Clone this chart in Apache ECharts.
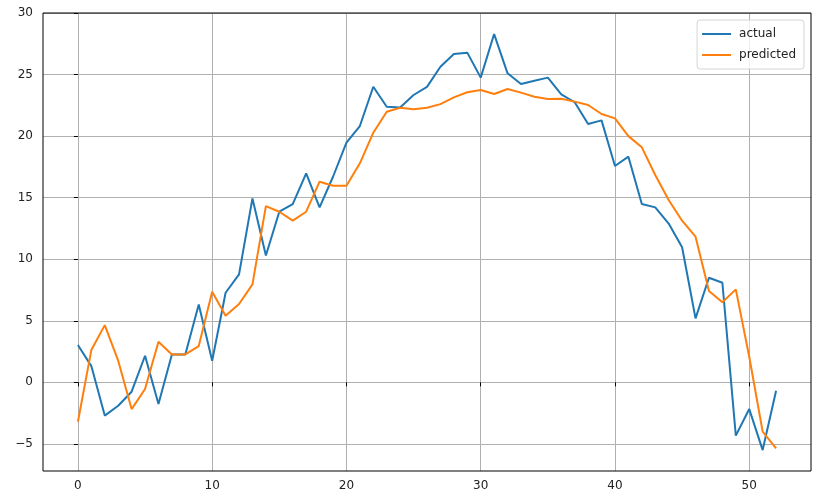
<!DOCTYPE html>
<html>
<head>
<meta charset="utf-8">
<script src="https://cdn.jsdelivr.net/npm/echarts@6/dist/echarts.min.js"></script>
<style>html,body{margin:0;padding:0;background:#fff}#c{width:815px;height:500px}</style>
</head>
<body>
<div id="c"></div>
<script>
const actual = [3.03, 1.32, -2.7, -1.9, -0.76, 2.16, -1.76, 2.27, 2.27, 6.33, 1.76, 7.28, 8.77, 14.94, 10.3, 13.86, 14.48, 16.98, 14.21, 16.7, 19.47, 20.82, 24.01, 22.39, 22.33, 23.34, 24.0, 25.64, 26.67, 26.78, 24.75, 28.29, 25.1, 24.23, 24.5, 24.75, 23.39, 22.75, 20.98, 21.28, 17.57, 18.33, 14.48, 14.21, 12.9, 10.97, 5.2, 8.5, 8.09, -4.33, -2.17, -5.5, -0.68];
const predicted = [-3.2, 2.62, 4.65, 1.76, -2.17, -0.54, 3.3, 2.27, 2.27, 2.95, 7.36, 5.41, 6.36, 7.96, 14.32, 13.86, 13.13, 13.86, 16.3, 15.97, 15.97, 17.79, 20.28, 21.98, 22.3, 22.18, 22.3, 22.6, 23.15, 23.56, 23.74, 23.42, 23.83, 23.53, 23.2, 23.01, 23.04, 22.8, 22.53, 21.8, 21.44, 20.0, 19.09, 16.84, 14.81, 13.13, 11.83, 7.42, 6.5, 7.55, 2.08, -4.0, -5.36];
const xTicks = [0, 10, 20, 30, 40, 50];
const yTicks = [-5, 0, 5, 10, 15, 20, 25, 30];

const font = 'DejaVu Sans';
const fmt = v => String(v).replace('-', '\u2212');
const pairs = arr => arr.map((v, i) => [i, v]);

const chart = echarts.init(document.getElementById('c'), null, {renderer: 'canvas'});
chart.setOption({
  animation: false,
  backgroundColor: '#fff',
  grid: {left: 43, right: 4, top: 13, bottom: 29, containLabel: false, show: true, borderColor: '#000', borderWidth: 1, z: 10},
  xAxis: {
    type: 'value', min: -2.6, max: 54.6,
    axisLine: {show: false},
    axisTick: {show: true, inside: false, length: 4, lineStyle: {color: '#000', width: 1}, customValues: xTicks},
    axisLabel: {customValues: xTicks, color: '#222', fontFamily: font, fontSize: 12, margin: 9, formatter: fmt},
    splitLine: {show: true, lineStyle: {color: '#b0b0b0', width: 1}}
  },
  yAxis: {
    type: 'value', min: -7.2, max: 30,
    axisLine: {show: false},
    axisTick: {show: true, inside: false, length: 4, lineStyle: {color: '#000', width: 1}, customValues: yTicks},
    axisLabel: {customValues: yTicks, color: '#222', fontFamily: font, fontSize: 12, margin: 10, formatter: fmt},
    splitLine: {show: true, lineStyle: {color: '#b0b0b0', width: 1}}
  },
  legend: {
    orient: 'vertical', right: 11, top: 20,
    icon: 'rect', itemWidth: 29, itemHeight: 2, itemGap: 9,
    padding: [8, 8, 8, 5],
    backgroundColor: 'rgba(255,255,255,0.8)', borderColor: '#d5d5d5', borderWidth: 1, borderRadius: 3,
    textStyle: {fontFamily: font, fontSize: 12, color: '#222', padding: [0, 0, 0, 3]},
    data: ['actual', 'predicted']
  },
  series: [
    {name: 'actual', type: 'line', data: pairs(actual), showSymbol: false, symbol: 'none', color: '#1f77b4', lineStyle: {width: 2, color: '#1f77b4'}},
    {name: 'predicted', type: 'line', data: pairs(predicted), showSymbol: false, symbol: 'none', color: '#ff7f0e', lineStyle: {width: 2, color: '#ff7f0e'}}
  ]
});
</script>
</body>
</html>
